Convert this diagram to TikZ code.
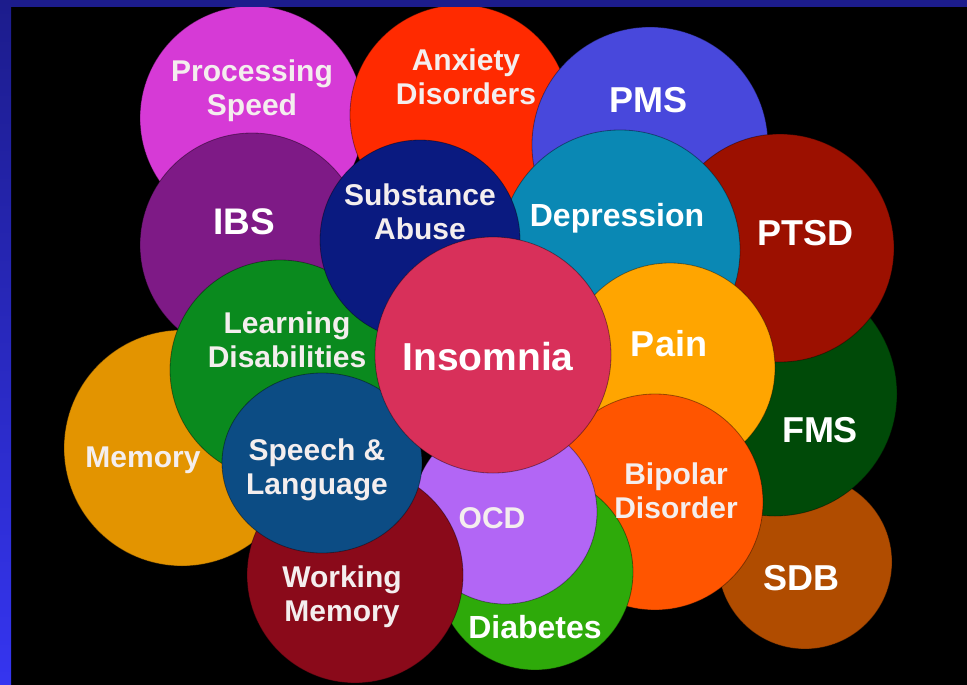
\documentclass[tikz,border=0pt]{standalone}
\usepackage{fontspec}
\setmainfont{Liberation Sans}
\definecolor{cPS}{HTML}{D63AD6}
\definecolor{cAX}{HTML}{FF2A00}
\definecolor{cPMS}{HTML}{4848DC}
\definecolor{cPTSD}{HTML}{9C1000}
\definecolor{cIBS}{HTML}{7E1A86}
\definecolor{cMEM}{HTML}{E39400}
\definecolor{cSDB}{HTML}{B04C00}
\definecolor{cFMS}{HTML}{004A08}
\definecolor{cLD}{HTML}{0A8A1E}
\definecolor{cDEP}{HTML}{0A88B4}
\definecolor{cSA}{HTML}{0A1A80}
\definecolor{cPAIN}{HTML}{FFA500}
\definecolor{cBIP}{HTML}{FF5500}
\definecolor{cDIA}{HTML}{2EAA0A}
\definecolor{cOCD}{HTML}{B266F5}
\definecolor{cWM}{HTML}{8A0A1A}
\definecolor{cSL}{HTML}{0C4C84}
\definecolor{cINS}{HTML}{D8305A}
\definecolor{bandtop}{HTML}{1C1C8C}
\definecolor{bandbot}{HTML}{3535F0}
\definecolor{softwhite}{HTML}{F4EEEE}
\tikzset{
  bubble/.style={fill=#1, draw=black, draw opacity=0.4, line width=0.8pt},
  crisp/.style={text=white, font=\bfseries\fontsize{#1}{#1}\selectfont, align=center, inner sep=0pt},
  soft/.style={text=softwhite, font=\bfseries\fontsize{30}{34}\selectfont, align=center, inner sep=0pt},
}
\begin{document}
\begin{tikzpicture}[x=1pt,y=-1pt]
\useasboundingbox (0,0) rectangle (967,685);
\fill[black] (0,0) rectangle (967,685);
\begin{scope}
\clip (0,0) rectangle (967,685);
% circles, from the bottom layer up
\path[bubble=cPS]   (252,118) circle[radius=112pt];
\path[bubble=cAX]   (460,115) circle[radius=110pt];
\path[bubble=cPMS]  (650,145) circle[radius=118pt];
\path[bubble=cMEM]  (182,448) circle[radius=118pt];
\path[bubble=cIBS]  (252,245) circle[radius=112pt];
\path[bubble=cSDB]  (805,562) circle[radius=87pt];
\path[bubble=cFMS]  (775,394) circle[radius=122pt];
\path[bubble=cPTSD] (780,248) circle[radius=114pt];
\path[bubble=cLD]   (280,370) circle[radius=110pt];
\path[bubble=cDEP]  (620,250) circle[radius=120pt];
\path[bubble=cSA]   (420,240) circle[radius=100pt];
\path[bubble=cPAIN] (670,368) circle[radius=105pt];
\path[bubble=cBIP]  (655,502) circle[radius=108pt];
\path[bubble=cDIA]  (535,572) circle[radius=98pt];
\path[bubble=cOCD]  (505,512) circle[radius=92pt];
\path[bubble=cWM]   (355,575) circle[radius=108pt];
\path[bubble=cSL]   (322,463) ellipse[x radius=100pt, y radius=90pt];
\path[bubble=cINS]  (493,355) circle[radius=118pt];
\end{scope}
% labels
\node[soft] (tPS) at (252,91) {Processing\\Speed};
\node[soft] (tAX) at (466,77) {Anxiety\\Disorders};
\node[crisp=36] (tPMS) at (648,100) {PMS};
\node[crisp=37] (tIBS) at (244,222) {IBS};
\node[soft] (tSA) at (420,212) {Substance\\Abuse};
\node[crisp=32] (tDEP) at (617,218) {Depression};
\node[crisp=36] (tPTSD) at (805,233) {PTSD};
\node[soft] (tLD) at (287,340) {Learning\\Disabilities};
\node[crisp=39] (tINS) at (488,357) {Insomnia};
\node[crisp=36] (tPAIN) at (669,344) {Pain};
\node[soft] (tMEM) at (143,460) {Memory};
\node[crisp=36] (tFMS) at (820,430) {FMS};
\node[soft] (tSL) at (317,470) {Speech \&\\Language};
\node[soft] (tBIP) at (676,491) {Bipolar\\Disorder};
\node[soft] (tOCD) at (492,518) {OCD};
\node[crisp=36] (tSDB) at (801,578) {SDB};
\node[soft] (tWM) at (342,597) {Working\\Memory};
\node[crisp=32] (tDIA) at (535,627) {Diabetes};
% frame bands
\fill[bandtop] (0,0) rectangle (967,7);
\shade[top color=bandtop, bottom color=bandbot] (0,0) rectangle (11,685);
\end{tikzpicture}
\end{document}
